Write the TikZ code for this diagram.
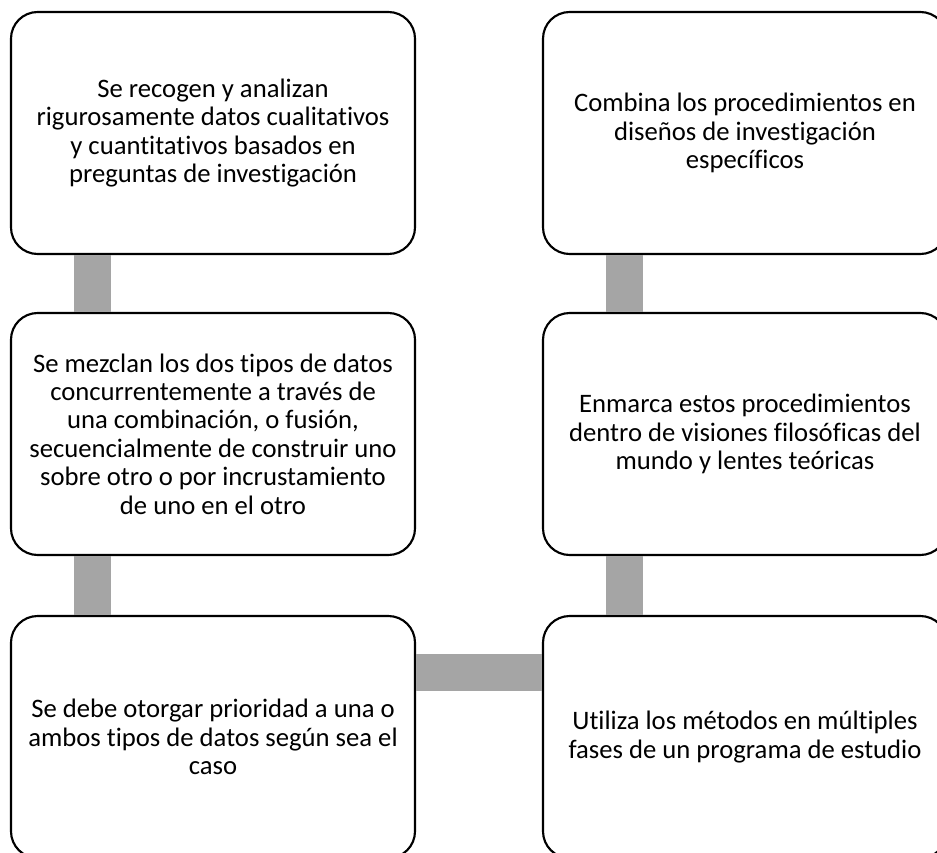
\documentclass[tikz,border=0pt]{standalone}
\usepackage{fontspec}
\setmainfont{Carlito}[RawFeature={-liga;-clig;-dlig}]
\usetikzlibrary{calc}
\definecolor{conngray}{HTML}{A5A5A5}
\tikzset{
  box/.style={draw=black, line width=1.6pt, fill=white, rounded corners=20pt,
    minimum width=303pt, minimum height=181.5pt, align=center, inner sep=0pt,
    font=\fontsize{20pt}{21.3pt}\selectfont},
  conn/.style={draw=conngray, line width=27.75pt}
}
\begin{document}
\begin{tikzpicture}[x=0.75pt,y=-0.75pt]
\useasboundingbox (0,0) rectangle (937,852);
\node[box] (tl) at (213,133) {Se recogen y analizan\\rigurosamente datos cualitativos\\y cuantitativos basados en\\preguntas de investigación};
\node[box] (ml) at (213,434) {Se mezclan los dos tipos de datos\\concurrentemente a través de\\una combinación, o fusión,\\secuencialmente de construir uno\\sobre otro o por incrustamiento\\de uno en el otro};
\node[box] (bl) at (213,737) {Se debe otorgar prioridad a una o\\ambos tipos de datos según sea el\\caso};
\node[box] (tr) at (745,133) {Combina los procedimientos en\\diseños de investigación\\específicos};
\node[box] (mr) at (745,434) {Enmarca estos procedimientos\\dentro de visiones filosóficas del\\mundo y lentes teóricas};
\node[box] (br) at (745,737) {Utiliza los métodos en múltiples\\fases de un programa de estudio};
\draw[conn] ($(tl.south west)+(82.5,0)$) -- ($(ml.north west)+(82.5,0)$);
\draw[conn] ($(ml.south west)+(82.5,0)$) -- ($(bl.north west)+(82.5,0)$);
\draw[conn] ($(bl.north east)+(0,58)$) -- ($(br.north west)+(0,58)$);
\draw[conn] ($(br.north west)+(82.5,0)$) -- ($(mr.south west)+(82.5,0)$);
\draw[conn] ($(mr.north west)+(82.5,0)$) -- ($(tr.south west)+(82.5,0)$);
\end{tikzpicture}
\end{document}
